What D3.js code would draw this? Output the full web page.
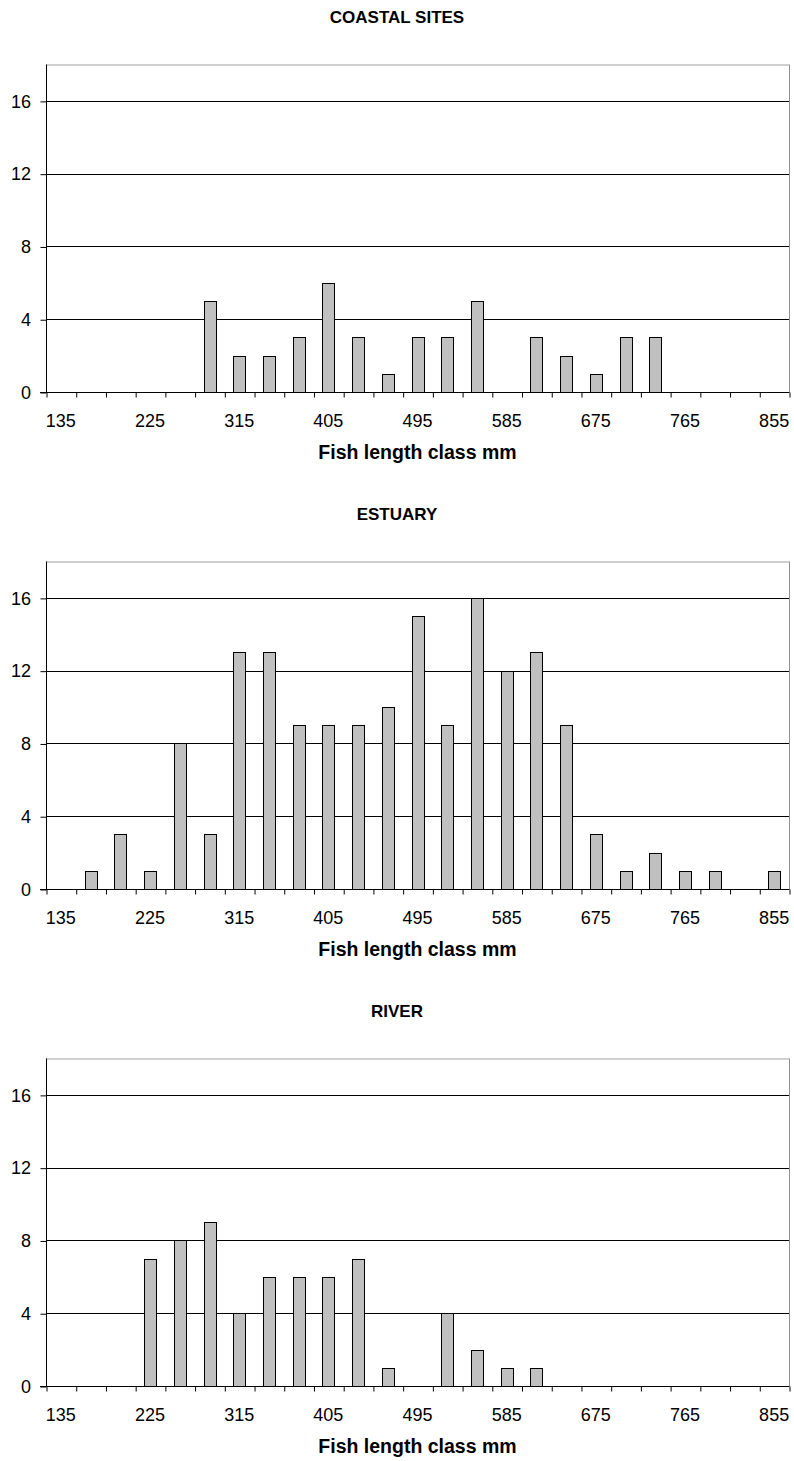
<!DOCTYPE html>
<html>
<head>
<meta charset="utf-8">
<script src="https://cdn.jsdelivr.net/npm/d3@7"></script>
<style>
  html, body { margin: 0; padding: 0; background: #fff; }
  svg { display: block; font-family: "Liberation Sans", Arial, sans-serif; }
</style>
</head>
<body>
<svg id="chart" width="794" height="1461"></svg>
<script>
// Length classes (mm)
const categories = [135,165,195,225,255,285,315,345,375,405,435,465,495,525,555,585,615,645,675,705,735,765,795,825,855];
// Every third class is labelled
const xTickLabels = [135,225,315,405,495,585,675,765,855];
const yTicks = [0,4,8,12,16];

const panelTitles = ["COASTAL SITES", "ESTUARY", "RIVER"];
const coastal = [0,0,0,0,0,5,2,2,3,6,3,1,3,3,5,0,3,2,1,3,3,0,0,0,0];
const estuary = [0,1,3,1,8,3,13,13,9,9,9,10,15,9,16,12,13,9,3,1,2,1,1,0,1];
const river   = [0,0,0,7,8,9,4,6,6,6,7,1,0,4,2,1,1,0,0,0,0,0,0,0,0];
const xAxisTitle = "Fish length class mm";

const seriesList = [coastal, estuary, river];

const svg = d3.select("#chart");
const left = 46, right = 789;
const plotH = 327.5;
const tops = [64.5, 561.5, 1058.5];

const x = d3.scaleBand().domain(categories).range([left, right]).paddingInner(0.6).paddingOuter(0.3);
const xLabels = d3.scaleBand().domain(categories).range([left, right]).padding(0);
const xIdx = d3.scaleLinear().domain([0, categories.length]).range([left, right]);

seriesList.forEach((vals, p) => {
  const top = tops[p], bottom = top + plotH;
  const y = d3.scaleLinear().domain([0, 18]).range([bottom, top]);
  const g = svg.append("g");

  // Title
  g.append("text")
    .attr("x", 397).attr("y", top - 42)
    .attr("text-anchor", "middle")
    .attr("font-size", 17).attr("font-weight", "bold")
    .text(panelTitles[p]);

  // Top and right borders
  g.append("line").attr("x1", left).attr("x2", right).attr("y1", top + 0.5).attr("y2", top + 0.5)
    .attr("stroke", "#a0a0a0").attr("stroke-width", 1);
  g.append("line").attr("x1", right + 0.5).attr("x2", right + 0.5).attr("y1", top).attr("y2", bottom)
    .attr("stroke", "#909090").attr("stroke-width", 1);

  // Gridlines
  g.selectAll(".grid").data(yTicks.filter(d => d > 0)).enter().append("line")
    .attr("x1", left).attr("x2", right)
    .attr("y1", d => Math.round(y(d)) + 0.5).attr("y2", d => Math.round(y(d)) + 0.5)
    .attr("stroke", "#000").attr("stroke-width", 1);

  // Bars
  g.selectAll(".bar").data(categories.map((c, i) => ({c, v: vals[i]})).filter(d => d.v > 0))
    .enter().append("rect")
    .attr("x", d => Math.round(x(d.c)) + 0.5)
    .attr("y", d => Math.round(y(d.v)) + 0.5)
    .attr("width", Math.round(x.bandwidth()))
    .attr("height", d => Math.round(y(0)) - Math.round(y(d.v)))
    .attr("fill", "#c0c0c0").attr("stroke", "#000").attr("stroke-width", 1);

  // Y axis
  const yAxis = d3.axisLeft(y).tickValues(yTicks).tickSize(6).tickPadding(9.5).tickFormat(d3.format("d"));
  const ya = g.append("g").attr("transform", `translate(${left + 0.5},0.5)`).call(yAxis);
  ya.select(".domain").attr("d", `M0,${top - 0.5}V${Math.round(bottom)}`).attr("stroke", "#000");
  ya.selectAll(".tick line").attr("stroke", "#000");
  ya.selectAll(".tick text").attr("font-size", 18).attr("font-family", "Liberation Sans, Arial, sans-serif").attr("fill", "#000");

  // X axis tick marks between categories
  const xAxisTicks = d3.axisBottom(xIdx).tickValues(d3.range(0, categories.length + 1)).tickSize(5).tickFormat("");
  const xa = g.append("g").attr("transform", `translate(0.5,${Math.round(bottom) + 0.5})`).call(xAxisTicks);
  xa.select(".domain").attr("d", `M${left - 6.5},0H${right}`).attr("stroke", "#000");
  xa.selectAll(".tick line").attr("stroke", "#000");

  // X axis labels centred on categories
  const xAxisLab = d3.axisBottom(xLabels).tickValues(xTickLabels).tickSize(0).tickPadding(22);
  const xl = g.append("g").attr("transform", `translate(0,${Math.round(bottom)})`).call(xAxisLab);
  xl.select(".domain").remove();
  xl.selectAll(".tick text").attr("font-size", 18).attr("font-family", "Liberation Sans, Arial, sans-serif").attr("fill", "#000");

  // X axis title
  g.append("text")
    .attr("x", (left + right) / 2).attr("y", bottom + 67)
    .attr("text-anchor", "middle")
    .attr("font-size", 19.5).attr("font-weight", "bold")
    .text(xAxisTitle);
});
</script>
</body>
</html>
